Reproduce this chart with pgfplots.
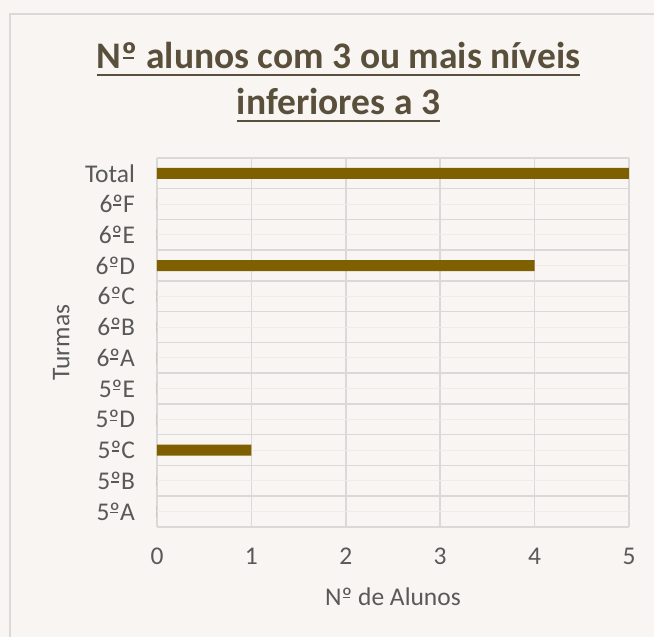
\documentclass[border=0pt]{standalone}
\usepackage{pgfplots}
\pgfplotsset{compat=1.18}
\usepackage{fontspec}
\setmainfont{Carlito}
\newcommand{\om}{\makebox[0pt][l]{\kern0.04em\rule[0.27em]{0.29em}{0.055em}}º}
\definecolor{bgc}{HTML}{F8F5F2}
\definecolor{barc}{HTML}{7F6000}
\definecolor{titc}{HTML}{594F3B}
\definecolor{txtc}{HTML}{595959}
\definecolor{gridd}{HTML}{D9D9D9}
\definecolor{gridl}{HTML}{EEEBE8}
\begin{document}
\begin{tikzpicture}[x=1pt,y=1pt]
\fill[bgc] (0,0) rectangle (654,637);
\draw[gridd, line width=2pt] (10,0) -- (10,623) -- (654,623);
\begin{axis}[
  at={(157pt,110pt)}, anchor=south west,
  scale only axis, width=472pt, height=369pt,
  xbar, bar width=11pt,
  xmin=0, xmax=5, ymin=-0.5, ymax=11.5,
  xtick={0,1,2,3,4,5},
  ytick={0,1,2,3,4,5,6,7,8,9,10,11},
  yticklabels={5\om A,5\om B,5\om C,5\om D,5\om E,6\om A,6\om B,6\om C,6\om D,6\om E,6\om F,Total},
  minor ytick={-0.5,0.5,1.5,2.5,3.5,4.5,5.5,6.5,7.5,8.5,9.5,10.5,11.5},
  xmajorgrids, ymajorgrids, yminorgrids,
  major x grid style={gridd, line width=1.5pt},
  major y grid style={gridl, line width=1.2pt},
  minor y grid style={gridd, line width=1.5pt},
  axis line style={draw=none},
  major tick length=0pt, minor tick length=0pt,
  /pgf/number format/assume math mode=true,
  tick label style={font=\fontsize{25.5}{30}\selectfont, text=txtc},
  yticklabel style={xshift=-18.5pt},
  xticklabel style={yshift=-17.5pt},
  xlabel={N\om{} de Alunos},
  ylabel={Turmas},
  label style={font=\fontsize{25.5}{30}\selectfont, text=txtc},
  xlabel style={at={(axis description cs:0.5,-0.2114)}, anchor=base},
  ylabel style={at={(axis description cs:-0.1858,0.5)}, anchor=base, rotate=0},
]
\addplot[fill=barc, draw=none] coordinates {
  (0,0) (0,1) (1,2) (0,3) (0,4) (0,5) (0,6) (0,7) (4,8) (0,9) (0,10) (5,11)
};
\end{axis}
\node[font=\fontsize{37.5}{45}\selectfont\bfseries, text=titc, anchor=base, inner sep=0pt] (t1) at (338.5,568) {N\om{} alunos com 3 ou mais níveis};
\draw[titc, line width=2.5pt] ([yshift=-6pt]t1.base west) -- ([yshift=-6pt]t1.base east);
\node[font=\fontsize{37.5}{45}\selectfont\bfseries, text=titc, anchor=base, inner sep=0pt] (t2) at (338.5,522) {inferiores a 3};
\draw[titc, line width=2.5pt] ([yshift=-6pt]t2.base west) -- ([yshift=-6pt]t2.base east);
\pgfresetboundingbox
\useasboundingbox (0,0) rectangle (654,637);
\end{tikzpicture}
\end{document}
